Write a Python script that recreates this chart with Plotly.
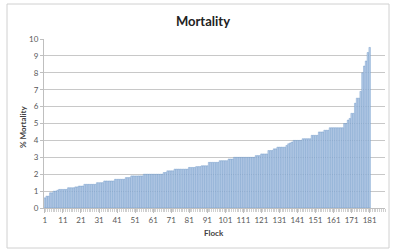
import plotly.graph_objects as go

flocks = list(range(1, 182))
mortality = [
    0.6, 0.7, 0.7, 0.9, 0.9, 1.0, 1.0, 1.05, 1.1, 1.1,
    1.1, 1.1, 1.1, 1.2, 1.2, 1.2, 1.2, 1.25, 1.25, 1.3,
    1.3, 1.3, 1.4, 1.4, 1.4, 1.4, 1.4, 1.4, 1.4, 1.5,
    1.5, 1.5, 1.5, 1.6, 1.6, 1.6, 1.6, 1.6, 1.6, 1.7,
    1.7, 1.7, 1.7, 1.7, 1.7, 1.8, 1.8, 1.8, 1.9, 1.9,
    1.9, 1.9, 1.9, 1.9, 1.9, 2.0, 2.0, 2.0, 2.0, 2.0,
    2.0, 2.0, 2.0, 2.0, 2.0, 2.0, 2.1, 2.1, 2.2, 2.2,
    2.2, 2.2, 2.3, 2.3, 2.3, 2.3, 2.3, 2.3, 2.3, 2.3,
    2.4, 2.4, 2.4, 2.4, 2.45, 2.45, 2.45, 2.5, 2.5, 2.5,
    2.5, 2.7, 2.7, 2.7, 2.7, 2.7, 2.7, 2.8, 2.8, 2.8,
    2.8, 2.8, 2.9, 2.9, 2.9, 3.0, 3.0, 3.0, 3.0, 3.0,
    3.0, 3.0, 3.0, 3.0, 3.0, 3.0, 3.0, 3.1, 3.1, 3.1,
    3.2, 3.2, 3.2, 3.2, 3.4, 3.4, 3.4, 3.5, 3.5, 3.6,
    3.6, 3.6, 3.6, 3.6, 3.7, 3.8, 3.85, 3.9, 4.0, 4.0,
    4.0, 4.0, 4.0, 4.1, 4.1, 4.1, 4.1, 4.1, 4.3, 4.3,
    4.3, 4.3, 4.5, 4.5, 4.5, 4.6, 4.6, 4.6, 4.75, 4.75,
    4.75, 4.75, 4.75, 4.75, 4.75, 4.75, 5.0, 5.0, 5.2, 5.3,
    5.6, 5.6, 6.2, 6.5, 6.5, 6.9, 8.0, 8.4, 8.7, 9.2,
    9.5,
]
x_tick_labels = [str(v) for v in range(1, 182, 10)]
y_ticks = list(range(0, 11))

W, H = 394, 250
L, R, T, B = 44, 9, 39, 42
pw, ph = W - L - R, H - T - B

def px_x(p):
    return (p - L) / pw

def px_y(p):
    return (H - B - p) / ph

fig = go.Figure()
fig.add_trace(go.Bar(
    x=flocks, y=mortality,
    marker=dict(color="#c0d2ea", line=dict(color="#4f81bd", width=0.35)),
    width=0.85,
))

fig.update_layout(
    width=W, height=H,
    margin=dict(l=L, r=R, t=T, b=B, autoexpand=False),
    paper_bgcolor="white", plot_bgcolor="white",
    showlegend=False,
    font=dict(family="Lato, Liberation Sans, sans-serif", color="#595959", size=8),
    title=dict(text="<b>Mortality</b>", x=203 / W, xanchor="center",
               y=1 - 21 / H, yanchor="middle",
               font=dict(size=13, color="#222222")),
    xaxis=dict(
        range=[0.5, 189.5], autorange=False, automargin=False,
        tickmode="array",
        tickvals=[int(t) for t in x_tick_labels],
        ticktext=x_tick_labels,
        ticks="outside", ticklen=4, tickcolor="#bfbfbf",
        minor=dict(dtick=1, tick0=0.5, ticks="outside", ticklen=3, tickcolor="#d0d0d0"),
        showline=True, linecolor="#bfbfbf", linewidth=1,
        showgrid=False, zeroline=False,
        tickfont=dict(size=8, color="#595959"),
    ),
    yaxis=dict(
        range=[0, 10], autorange=False, automargin=False,
        tickmode="array", tickvals=y_ticks,
        showgrid=True, gridcolor="#c8c8c8", gridwidth=1,
        showline=True, linecolor="#bfbfbf", linewidth=1,
        ticks="outside", ticklen=3, tickcolor="#bfbfbf",
        zeroline=False,
        tickfont=dict(size=8, color="#595959"),
    ),
    annotations=[
        dict(text="<b>Flock</b>", xref="paper", yref="paper",
             x=px_x(214), y=px_y(233), xanchor="center", yanchor="middle",
             showarrow=False, font=dict(size=8, color="#404040")),
        dict(text="<b>% Mortality</b>", xref="paper", yref="paper",
             x=px_x(23), y=px_y(127), xanchor="center", yanchor="middle",
             textangle=-90, showarrow=False, font=dict(size=8, color="#404040")),
    ],
    shapes=[dict(type="rect", xref="paper", yref="paper",
                 x0=px_x(7), x1=px_x(389), y0=px_y(248), y1=px_y(4),
                 line=dict(color="#d0d0d0", width=1), layer="below")],
)

fig.write_html("out.html", config={"displayModeBar": False},
               post_script="document.body.style.margin='0';document.body.style.padding='0';")
